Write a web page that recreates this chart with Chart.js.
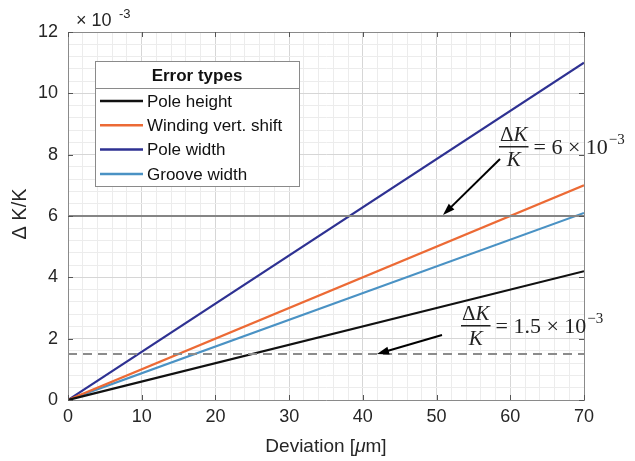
<!DOCTYPE html>
<html>
<head>
<meta charset="utf-8">
<style>html,body{margin:0;padding:0;background:#fff}</style>
</head>
<body>
<canvas id="myChart" width="635" height="461"></canvas>
<script src="https://cdn.jsdelivr.net/npm/chart.js"></script>
<script>
// data (y in units of 1e-3)
const deviation = [0, 70];
const poleHeight = [0, 4.2];
const windingShift = [0, 7.0];
const poleWidth = [0, 11.0];
const grooveWidth = [0, 6.1];
const limitHigh = [6, 6];
const limitLow = [1.5, 1.5];
const seriesNames = ['Pole height', 'Winding vert. shift', 'Pole width', 'Groove width'];
const seriesColors = ['#111111', '#ec6a35', '#2e3192', '#4a92c4'];
const xTicks = [0, 10, 20, 30, 40, 50, 60, 70];
const yTicks = [0, 2, 4, 6, 8, 10, 12];

const txt = '#262626';
const SANS = '"Liberation Sans", Arial, sans-serif';
const SERIF = '"Liberation Serif", "DejaVu Serif", serif';

function pts(ys) { return deviation.map((x, i) => ({x: x, y: ys[i]})); }

const ctx = document.getElementById('myChart');

function drawArrow(c, x1, y1, x2, y2) {
  const a = Math.atan2(y2 - y1, x2 - x1);
  c.save();
  c.strokeStyle = '#000'; c.fillStyle = '#000'; c.lineWidth = 2;
  c.beginPath(); c.moveTo(x1, y1); c.lineTo(x2 - 8 * Math.cos(a), y2 - 8 * Math.sin(a)); c.stroke();
  c.beginPath();
  c.moveTo(x2, y2);
  c.lineTo(x2 - 12 * Math.cos(a) + 4 * Math.sin(a), y2 - 12 * Math.sin(a) - 4 * Math.cos(a));
  c.lineTo(x2 - 12 * Math.cos(a) - 4 * Math.sin(a), y2 - 12 * Math.sin(a) + 4 * Math.cos(a));
  c.closePath(); c.fill();
  c.restore();
}

// ΔK/K = value x 10^-3, fraction bar at barY, starting at left
function drawFrac(c, left, barY, mant) {
  c.save();
  c.fillStyle = '#222';
  c.textBaseline = 'alphabetic';
  c.font = '21px ' + SERIF;
  const wD = c.measureText('Δ').width;
  c.font = 'italic 21px ' + SERIF;
  const wK = c.measureText('K').width;
  const w = wD + wK + 2;
  c.font = '21px ' + SERIF;
  c.fillText('Δ', left + 1, barY - 6);
  c.font = 'italic 21px ' + SERIF;
  c.fillText('K', left + 1 + wD, barY - 6);
  c.fillText('K', left + (w - wK) / 2, barY + 19);
  c.fillRect(left, barY - 1, w, 1.5);
  c.font = '22px ' + SERIF;
  let x = left + w + 5;
  const s = '= ' + mant + ' × 10';
  c.fillText(s, x, barY + 7);
  x += c.measureText(s).width;
  c.font = '15px ' + SERIF;
  c.fillText('−3', x + 1, barY - 3);
  c.restore();
}

const extras = {
  id: 'extras',
  afterDraw(chart) {
    const c = chart.ctx;
    const a = chart.chartArea;
    const xs = chart.scales.x, ys = chart.scales.y;
    c.save();
    // box top/right
    c.strokeStyle = '#8a8a8a'; c.lineWidth = 1;
    c.beginPath();
    c.moveTo(a.left, a.top + 0.5); c.lineTo(a.right + 0.5, a.top + 0.5); c.lineTo(a.right + 0.5, a.bottom);
    c.stroke();
    // inward ticks
    c.strokeStyle = '#555';
    c.beginPath();
    xTicks.forEach(v => {
      const px = Math.round(xs.getPixelForValue(v)) + 0.5;
      c.moveTo(px, a.bottom); c.lineTo(px, a.bottom - 5);
      c.moveTo(px, a.top); c.lineTo(px, a.top + 5);
    });
    yTicks.forEach(v => {
      const py = Math.round(ys.getPixelForValue(v)) + 0.5;
      c.moveTo(a.left, py); c.lineTo(a.left + 5, py);
      c.moveTo(a.right, py); c.lineTo(a.right - 5, py);
    });
    c.stroke();

    // exponent label
    c.fillStyle = txt;
    c.textBaseline = 'alphabetic';
    c.font = '18px ' + SANS;
    c.fillText('× 10', 76, 26);
    c.font = '13px ' + SANS;
    c.fillText('-3', 119, 18);

    // axis titles
    c.font = '20px ' + SANS;
    c.textAlign = 'center'; c.textBaseline = 'middle';
    c.save();
    c.translate(20, 214); c.rotate(-Math.PI / 2);
    c.fillText('Δ K/K', 0, 0);
    c.restore();
    c.font = '19px ' + SANS;
    c.textAlign = 'left';
    const p1 = 'Deviation [', p3 = 'm]';
    const w1 = c.measureText(p1).width, w3 = c.measureText(p3).width;
    c.font = 'italic 19px ' + SANS;
    const w2 = c.measureText('μ').width;
    let x0 = 326 - (w1 + w2 + w3) / 2;
    c.font = '19px ' + SANS;
    c.fillText(p1, x0, 447);
    c.font = 'italic 19px ' + SANS;
    c.fillText('μ', x0 + w1, 447);
    c.font = '19px ' + SANS;
    c.fillText(p3, x0 + w1 + w2, 447);

    // legend
    const L = 95, T = 61, R = 299, B = 186;
    c.fillStyle = '#fff';
    c.fillRect(L, T, R - L, B - T);
    c.strokeStyle = '#8a8a8a'; c.lineWidth = 1;
    c.strokeRect(L + 0.5, T + 0.5, R - L, B - T);
    c.beginPath(); c.moveTo(L, 88.5); c.lineTo(R, 88.5); c.stroke();
    c.fillStyle = '#111';
    c.font = 'bold 17px ' + SANS;
    c.textAlign = 'center';
    c.fillText('Error types', 197, 76);
    c.textAlign = 'left';
    c.font = '17px ' + SANS;
    seriesNames.forEach((n, i) => {
      const y = 101 + i * 24.3;
      c.strokeStyle = seriesColors[i]; c.lineWidth = 2.5;
      c.beginPath(); c.moveTo(100, y); c.lineTo(143, y); c.stroke();
      c.fillStyle = '#111';
      c.fillText(n, 147, y + 1);
    });

    // annotations
    drawFrac(c, 499, 147, '6');
    drawArrow(c, 500, 159, 443, 215);
    drawFrac(c, 461, 326, '1.5');
    drawArrow(c, 442, 335, 377, 354);
    c.restore();
  }
};

const lineSet = (label, ys, color, dash) => ({
  label: label, data: pts(ys), borderColor: color, borderWidth: 2.2,
  borderDash: dash || [], pointRadius: 0, fill: false, tension: 0
});

const myChart = new Chart(ctx, {
  type: 'line',
  data: {
    datasets: [
      lineSet('limit 6e-3', limitHigh, '#858585'),
      lineSet('limit 1.5e-3', limitLow, '#8c8c8c', [9, 6]),
      lineSet(seriesNames[0], poleHeight, seriesColors[0]),
      lineSet(seriesNames[1], windingShift, seriesColors[1]),
      lineSet(seriesNames[2], poleWidth, seriesColors[2]),
      lineSet(seriesNames[3], grooveWidth, seriesColors[3])
    ]
  },
  options: {
    responsive: false,
    animation: false,
    layout: { padding: { left: 0, top: 32, right: 51, bottom: 0 } },
    plugins: { legend: { display: false }, tooltip: { enabled: false } },
    scales: {
      x: {
        type: 'linear', min: 0, max: 70,
        afterFit: s => { s.height = 61; },
        border: { color: '#8a8a8a' },
        grid: {
          drawTicks: false,
          color: g => (g.tick && Math.abs(g.tick.value % 10) < 1e-6) ? '#d6d6d6' : '#ececec'
        },
        ticks: {
          stepSize: 2, autoSkip: false, maxRotation: 0, padding: 6,
          color: txt, font: { family: SANS, size: 18 },
          callback: v => xTicks.includes(Math.round(v)) && Math.abs(v - Math.round(v)) < 1e-6 ? String(Math.round(v)) : ''
        }
      },
      y: {
        type: 'linear', min: 0, max: 12,
        afterFit: s => { s.width = 68; },
        border: { color: '#8a8a8a' },
        grid: {
          drawTicks: false,
          color: g => {
            if (!g.tick) return '#ececec';
            const r = Math.round(g.tick.value);
            return (Math.abs(g.tick.value - r) < 1e-6 && yTicks.includes(r)) ? '#d6d6d6' : '#ececec';
          }
        },
        ticks: {
          stepSize: 0.4, autoSkip: false, padding: 10,
          color: txt, font: { family: SANS, size: 18 },
          callback: v => {
            const r = Math.round(v);
            return (Math.abs(v - r) < 1e-6 && yTicks.includes(r)) ? String(r) : '';
          }
        }
      }
    }
  },
  plugins: [extras]
});
</script>
</body>
</html>
